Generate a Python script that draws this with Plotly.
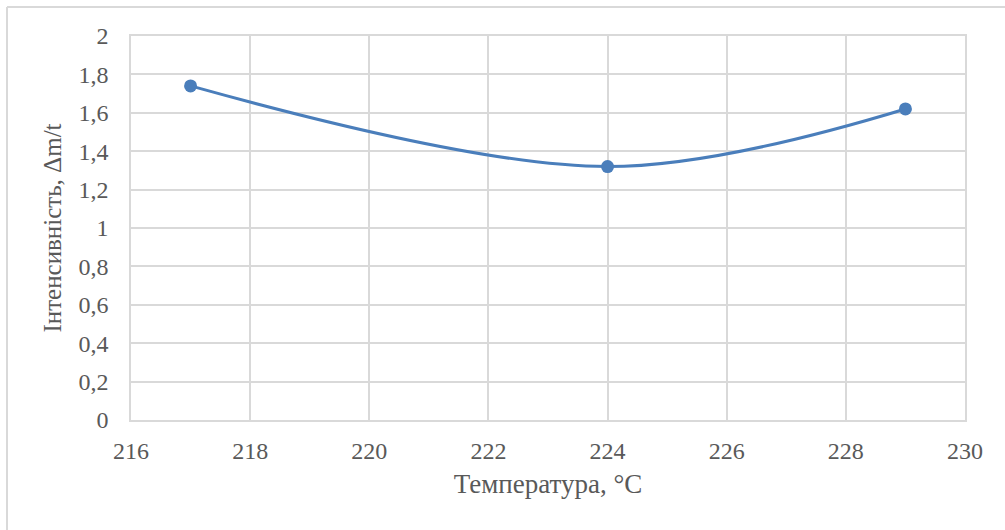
import plotly.graph_objects as go

temperature = [217, 224, 229]
intensity = [1.74, 1.32, 1.62]
x_ticks = [216, 218, 220, 222, 224, 226, 228, 230]
y_ticks = [0, 0.2, 0.4, 0.6, 0.8, 1.0, 1.2, 1.4, 1.6, 1.8, 2.0]
y_tick_text = ["0", "0,2", "0,4", "0,6", "0,8", "1", "1,2", "1,4", "1,6", "1,8", "2"]

W, H = 1005, 530
L, R, T, B = 131, 40, 36, 110
pw, ph = W - L - R, H - T - B

line_color = "#4a7ebb"
grid = "#d9d9d9"
txt = "#595959"
font = "Liberation Serif"

tick_font = dict(family=font, size=24, color=txt)
x_title_font = dict(family=font, size=27, color=txt)
y_title_font = dict(family=font, size=25, color=txt)

fig = go.Figure()
fig.add_trace(go.Scatter(
    x=temperature, y=intensity, mode="lines+markers",
    line=dict(color=line_color, width=3, shape="spline", smoothing=1.0),
    marker=dict(color=line_color, size=13),
    showlegend=False, cliponaxis=False,
))

fig.update_layout(
    width=W, height=H,
    margin=dict(l=L, r=R, t=T, b=B),
    paper_bgcolor="white", plot_bgcolor="white",
    separators=", ",
    font=dict(family=font, size=24, color=txt),
    xaxis=dict(
        range=[216, 230], tickvals=x_ticks, ticktext=[str(v) for v in x_ticks],
        tickfont=tick_font,
        showgrid=True, gridcolor=grid, gridwidth=1.5,
        showline=True, linecolor=grid, linewidth=1.5, mirror=True,
        zeroline=False, ticks="", ticklabelstandoff=8,
        title=dict(text="Температура, °C", font=x_title_font, standoff=12),
    ),
    yaxis=dict(
        range=[0, 2], tickvals=y_ticks, ticktext=y_tick_text,
        tickfont=tick_font,
        showgrid=True, gridcolor=grid, gridwidth=1.5,
        showline=True, linecolor=grid, linewidth=1.5, mirror=True,
        zeroline=False, ticks="", ticklabelstandoff=16,
        title=dict(text="Інтенсивність, Δm/t", font=y_title_font, standoff=10),
    ),
)

# outer chart border (left and top visible)
x_left = (7 - L) / pw
y_top = 1 + (T - 7) / ph
fig.add_shape(type="line", xref="paper", yref="paper",
              x0=x_left, x1=x_left, y0=y_top, y1=-(B + 5) / ph,
              line=dict(color=grid, width=2))
fig.add_shape(type="line", xref="paper", yref="paper",
              x0=x_left, x1=1 + (R + 5) / pw, y0=y_top, y1=y_top,
              line=dict(color=grid, width=2))

fig.write_html("out.html")
